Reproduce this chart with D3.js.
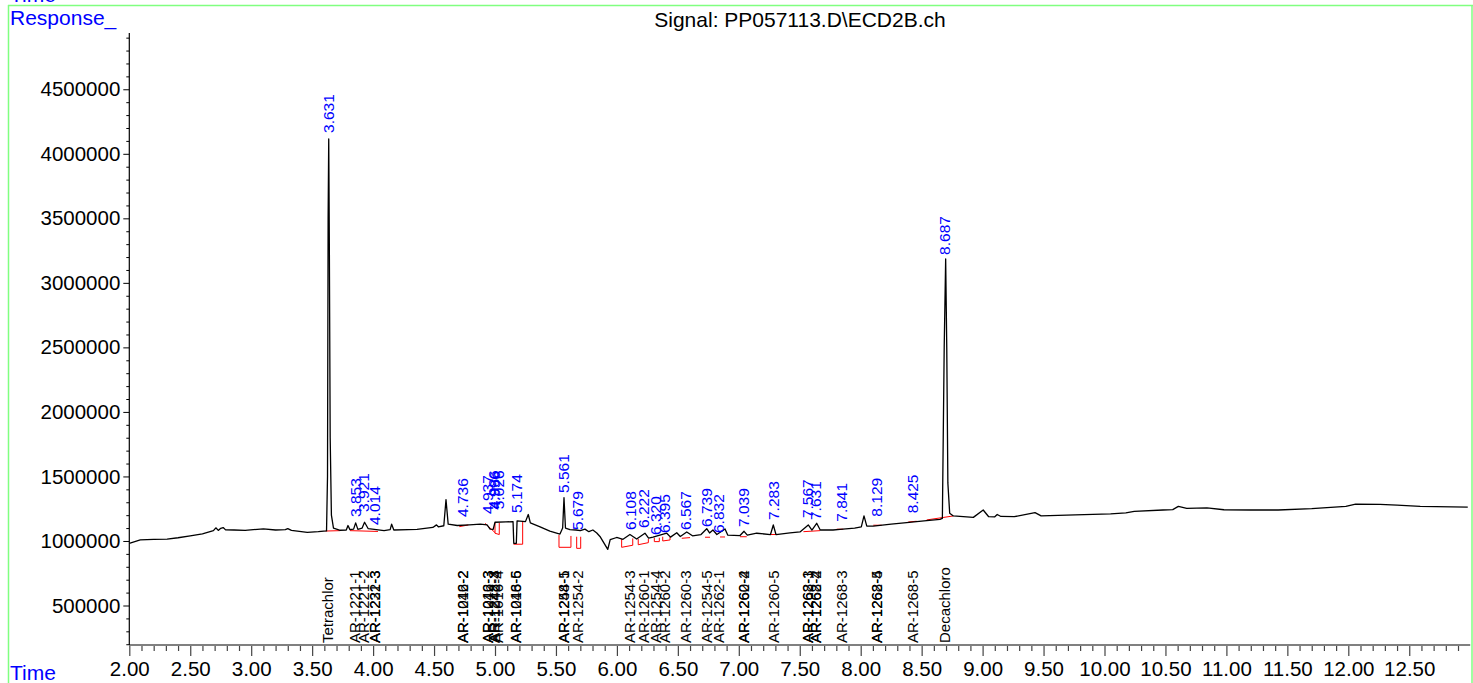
<!DOCTYPE html>
<html>
<head>
<meta charset="utf-8">
<script src="https://cdn.jsdelivr.net/npm/d3@7"></script>
<style>
  html, body { margin: 0; padding: 0; background: #fff; }
  svg { display: block; font-family: "Liberation Sans", Arial, sans-serif; }
</style>
</head>
<body>
<svg id="chart" width="1473" height="683"></svg>
<script>
// ---------------- DATA ----------------
const chartTitle = "Signal: PP057113.D\\ECD2B.ch";

// Chromatogram trace: retention time (min) and response
const traceTimes = [2.00,2.09,2.20,2.31,2.40,2.50,2.60,2.69,2.71,2.73,2.75,2.77,2.79,2.86,2.95,3.05,3.10,3.20,3.28,3.30,3.33,3.46,3.55,
  3.618,3.626,3.631,3.636,3.641,3.648,3.658,3.675,3.73,3.78,3.794,3.81,3.84,3.857,3.875,3.91,3.93,3.96,4.01,4.09,4.14,4.152,4.17,
  4.29,4.36,4.49,4.52,4.535,4.58,4.598,4.616,4.69,4.79,4.88,4.935,4.96,4.985,5.0,5.09,5.148,5.154,5.175,5.181,5.25,5.273,5.29,5.37,
  5.45,5.533,5.555,5.566,5.578,5.615,5.665,5.70,5.738,5.77,5.803,5.835,5.861,5.925,5.945,5.998,6.05,6.107,6.162,6.23,6.26,6.296,
  6.409,6.44,6.491,6.52,6.573,6.62,6.69,6.737,6.76,6.788,6.82,6.887,6.91,7.01,7.043,7.07,7.147,7.26,7.283,7.305,7.42,7.502,7.57,
  7.60,7.639,7.668,7.773,7.83,7.95,8.005,8.027,8.05,8.103,8.25,8.377,8.52,8.65,8.67,8.685,8.697,8.706,8.715,8.73,8.76,8.924,9.005,
  9.05,9.10,9.12,9.15,9.26,9.43,9.48,9.76,10.05,10.175,10.244,10.48,10.56,10.606,10.675,10.84,10.98,11.20,11.425,11.70,11.98,12.06,
  12.26,12.40,12.59,12.98];
const traceResponses = [982000,1008000,1012000,1015000,1025000,1039000,1055000,1080000,1102000,1082000,1098000,1104000,1086000,1085000,1082000,1090000,1093000,1085000,1088000,1096000,1082000,1067000,1072000,
  1078000,1500000,3500000,4115000,3300000,1800000,1200000,1100000,1083000,1085000,1120000,1088000,1092000,1140000,1090000,1100000,1145000,1095000,1090000,1080000,1088000,1130000,1085000,
  1088000,1090000,1105000,1125000,1110000,1118000,1320000,1130000,1120000,1125000,1130000,1125000,1092000,1090000,1145000,1148000,1150000,982000,982000,1155000,1150000,1205000,1140000,1110000,
  1077000,1054000,1100000,1335000,1100000,1088000,1085000,1080000,1092000,1072000,1085000,1062000,1035000,935000,1010000,1027000,1013000,1050000,1015000,1060000,1022000,1030000,
  1060000,1030000,1064000,1035000,1070000,1040000,1050000,1095000,1062000,1085000,1050000,1093000,1045000,1042000,1075000,1045000,1060000,1050000,1124000,1050000,1062000,1070000,1124000,
  1085000,1137000,1085000,1085000,1090000,1100000,1110000,1194000,1115000,1115000,1130000,1142000,1155000,1168000,1175000,2500000,3185000,2500000,1450000,1215000,1194000,1183000,1240000,
  1188000,1187000,1205000,1190000,1188000,1220000,1195000,1203000,1210000,1218000,1230000,1240000,1243000,1268000,1252000,1257000,1242000,1240000,1240000,1250000,1268000,1285000,
  1284000,1278000,1268000,1263000];

// Integration baselines (red), each a polyline of [time, response]
const integrationLines = [
  [[3.61,1077000],[3.73,1080000]],
  [[3.81,1080000],[4.04,1074000]],
  [[4.707,1111000],[4.781,1124000]],
  [[4.918,1137000],[5.0,1065000]],
  [[5.0,1140000],[5.0,1060000],[5.035,1050000],[5.035,1140000]],
  [[5.152,975000],[5.227,975000],[5.227,1150000]],
  [[5.525,1046000],[5.525,951000],[5.623,951000],[5.623,1039000]],
  [[5.670,1033000],[5.670,943000],[5.703,943000],[5.703,1033000]],
  [[6.039,1015000],[6.039,951000],[6.13,967000],[6.13,1020000]],
  [[6.175,1015000],[6.175,971000],[6.258,987000],[6.258,1015000]],
  [[6.307,1025000],[6.307,995000],[6.348,995000],[6.348,1025000]],
  [[6.376,1033000],[6.376,1000000],[6.436,1008000],[6.436,1033000]],
  [[6.532,1021000],[6.60,1026000]],
  [[6.723,1029000],[6.764,1029000]],
  [[6.846,1031000],[6.887,1031000]],
  [[7.01,1033000],[7.065,1033000]],
  [[7.256,1050000],[7.324,1050000]],
  [[7.53,1072000],[7.666,1080000]],
  [[7.803,1091000],[7.857,1091000]],
  [[8.103,1122000],[8.172,1122000]],
  [[8.39,1147000],[8.459,1153000]],
  [[8.541,1163000],[8.76,1194000]]
];

// Peak retention-time labels (blue) and the response of each labelled peak
const peakLabels = ["3.631","3.853","3.921","4.014","4.736","4.937","4.986","4.996","5.026","5.174","5.561","5.679","6.108","6.222","6.320","6.395","6.567","6.739","6.832","7.039","7.283","7.567","7.631","7.841","8.129","8.425","8.687"];
const peakHeights = [4115000,1139000,1178000,1077000,1139000,1163000,1200000,1195000,1200000,1170000,1325000,1039000,1039000,1054000,1000000,1015000,1039000,1062000,1015000,1062000,1116000,1131000,1116000,1103000,1142000,1168000,3170000];

// Compound names (black, bottom) and their retention times
const compoundTimes = [3.631,3.853,3.921,4.014,4.014,4.736,4.736,4.937,4.937,4.986,4.996,5.026,5.174,5.174,5.561,5.561,5.679,6.108,6.222,6.320,6.395,6.567,6.739,6.832,7.039,7.039,7.283,7.567,7.567,7.631,7.631,7.841,8.129,8.129,8.425,8.687];
const compoundNames = ["Tetrachlor","AR-1221-1","AR-1221-2","AR-1221-3","AR-1232-3","AR-1016-2","AR-1242-2","AR-1016-3","AR-1242-3","AR-1248-3","AR-1242-4","AR-1016-4","AR-1016-5","AR-1248-6","AR-1248-5","AR-1254-1","AR-1254-2","AR-1254-3","AR-1260-1","AR-1254-4","AR-1260-2","AR-1260-3","AR-1254-5","AR-1262-1","AR-1260-4","AR-1262-2","AR-1260-5","AR-1268-1","AR-1262-3","AR-1268-2","AR-1262-4","AR-1268-3","AR-1268-4","AR-1262-5","AR-1268-5","Decachloro"];

// Axis ticks
const xMajorTicks = [2.0,2.5,3.0,3.5,4.0,4.5,5.0,5.5,6.0,6.5,7.0,7.5,8.0,8.5,9.0,9.5,10.0,10.5,11.0,11.5,12.0,12.5];
const yMajorTicks = [500000,1000000,1500000,2000000,2500000,3000000,3500000,4000000,4500000];

// ---------------- DRAWING ----------------
const svg = d3.select("#chart");
const x = d3.scaleLinear().domain([2.0, 13.0]).range([129.3, 1470.2]);
const y = d3.scaleLinear().domain([194000, 4936000]).range([645, 33]);

const xMinor = d3.range(21, 130).map(d => d / 10).filter(d => !xMajorTicks.some(m => Math.abs(m - d) < 1e-6));
const yMinor = d3.range(2, 50).map(d => d * 100000).filter(d => d % 500000 !== 0);

// green frame
const green = "rgb(128,255,128)";
svg.append("line").attr("x1", 8).attr("x2", 1473).attr("y1", 5.5).attr("y2", 5.5).attr("stroke", green).attr("stroke-width", 1.5);
svg.append("line").attr("x1", 8.5).attr("x2", 8.5).attr("y1", 5).attr("y2", 683).attr("stroke", green).attr("stroke-width", 1.5);
svg.append("line").attr("x1", 1472).attr("x2", 1472).attr("y1", 5).attr("y2", 683).attr("stroke", green).attr("stroke-width", 1.5);

// corner labels
const blue = "#0000ff";
svg.append("text").attr("x", 10).attr("y", 2).attr("fill", blue).attr("font-size", 21).text("Time");
svg.append("text").attr("x", 10).attr("y", 25).attr("fill", blue).attr("font-size", 21).text("Response_");
svg.append("text").attr("x", 10).attr("y", 680).attr("fill", blue).attr("font-size", 21).text("Time");

// title
svg.append("text").attr("x", 800).attr("y", 27).attr("text-anchor", "middle").attr("font-size", 21).attr("fill", "#000").text(chartTitle);

// x axis
const xAxisMajor = d3.axisBottom(x).tickValues(xMajorTicks).tickSize(11).tickPadding(5).tickFormat(d => d.toFixed(2));
const xAxisMinor = d3.axisBottom(x).tickValues(xMinor).tickSize(6).tickFormat("");
const gxMinor = svg.append("g").attr("transform", "translate(0,645)").call(xAxisMinor);
const gx = svg.append("g").attr("transform", "translate(0,645)").call(xAxisMajor);
[gx, gxMinor].forEach(g => {
  g.select(".domain").remove();
  g.selectAll(".tick line").attr("stroke", "#444").attr("stroke-width", 1.2);
});
gx.selectAll(".tick text").attr("font-size", 20.5).attr("fill", "#000").attr("font-family", "Liberation Sans, Arial, sans-serif");
svg.append("line").attr("x1", x(2.0)).attr("x2", x(13.0)).attr("y1", 645).attr("y2", 645).attr("stroke", "#808080").attr("stroke-width", 2);

// y axis
const yAxisMajor = d3.axisLeft(y).tickValues(yMajorTicks).tickSize(6).tickPadding(3).tickFormat(d3.format("d"));
const yAxisMinor = d3.axisLeft(y).tickValues(yMinor).tickSize(3).tickFormat("");
const gyMinor = svg.append("g").attr("transform", "translate(129.3,0)").call(yAxisMinor);
const gy = svg.append("g").attr("transform", "translate(129.3,0)").call(yAxisMajor);
[gy, gyMinor].forEach(g => {
  g.select(".domain").remove();
  g.selectAll(".tick line").attr("stroke", "#000").attr("stroke-width", 1);
});
gy.selectAll(".tick text").attr("font-size", 20.5).attr("fill", "#000").attr("font-family", "Liberation Sans, Arial, sans-serif");
svg.append("line").attr("x1", 129.3).attr("x2", 129.3).attr("y1", y(4936000)).attr("y2", 645).attr("stroke", "#000").attr("stroke-width", 1.2);

// integration baselines (red)
const line = d3.line().x(d => x(d[0])).y(d => y(d[1]));
svg.append("g").selectAll("path").data(integrationLines).join("path")
  .attr("d", line).attr("fill", "none").attr("stroke", "#ff0000").attr("stroke-width", 1);

// chromatogram trace
const trace = traceTimes.map((t, i) => [t, traceResponses[i]]);
svg.append("path").datum(trace).attr("d", line)
  .attr("fill", "none").attr("stroke", "#000").attr("stroke-width", 1.3).attr("stroke-linejoin", "round");

// peak labels (blue, vertical)
svg.append("g").selectAll("text").data(peakLabels).join("text")
  .attr("transform", (d, i) => `translate(${x(+d)},${y(peakHeights[i]) - 6}) rotate(-90)`)
  .attr("dy", "0.35em").attr("text-anchor", "start").attr("font-size", 15.5).attr("fill", blue)
  .text(d => d);

// compound names (black, vertical, along the bottom)
svg.append("g").selectAll("text").data(compoundNames).join("text")
  .attr("transform", (d, i) => `translate(${x(compoundTimes[i])},643) rotate(-90)`)
  .attr("dy", "0.35em").attr("text-anchor", "start").attr("font-size", 15).attr("fill", "#000")
  .text(d => d);
</script>
</body>
</html>
